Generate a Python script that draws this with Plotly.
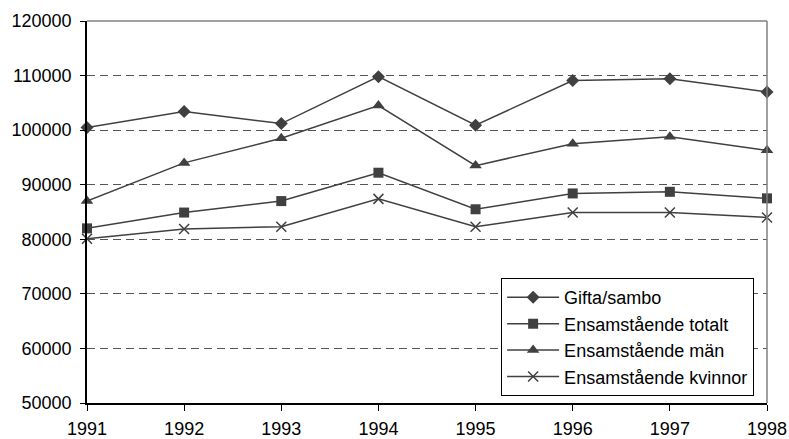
import plotly.graph_objects as go

years = [1991, 1992, 1993, 1994, 1995, 1996, 1997, 1998]
gifta_sambo = [100500, 103400, 101200, 109800, 100900, 109100, 109400, 107000]
ensam_totalt = [82000, 84900, 87000, 92200, 85500, 88400, 88700, 87500]
ensam_man = [87000, 94000, 98500, 104500, 93500, 97500, 98800, 96300]
ensam_kvinnor = [80100, 81900, 82300, 87400, 82300, 84900, 84900, 84000]

series_names = ["Gifta/sambo", "Ensamstående totalt", "Ensamstående män", "Ensamstående kvinnor"]
y_ticks = [50000, 60000, 70000, 80000, 90000, 100000, 110000, 120000]

col = "#404040"
font_family = "Liberation Sans, Arial, sans-serif"

fig = go.Figure()
specs = [
    (gifta_sambo, dict(symbol="diamond", size=10, color=col)),
    (ensam_totalt, dict(symbol="square", size=10, color=col)),
    (ensam_man, dict(symbol="triangle-up", size=11, color=col)),
    (ensam_kvinnor, dict(symbol="x-thin", size=10, color=col, line=dict(color=col, width=1.5))),
]
for name, (vals, mk) in zip(series_names, specs):
    fig.add_trace(go.Scatter(
        x=years, y=vals, name=name, mode="lines+markers",
        line=dict(color=col, width=1.5), marker=mk, cliponaxis=False,
    ))

fig.update_layout(
    width=789, height=439,
    margin=dict(l=87, r=22, t=21, b=36, autoexpand=False),
    paper_bgcolor="white", plot_bgcolor="white",
    font=dict(family=font_family, size=18, color="black"),
    showlegend=True,
    legend=dict(
        x=0.609, y=0.018, xanchor="left", yanchor="bottom",
        bgcolor="white", bordercolor="black", borderwidth=1,
        font=dict(size=18, family=font_family, color="black"),
        tracegroupgap=0, itemwidth=52,
    ),
    xaxis=dict(
        range=[1991, 1998], tickvals=years, ticktext=[str(y) for y in years],
        showgrid=False, zeroline=False, automargin=False,
        showline=True, linecolor="black", linewidth=1.5,
        ticks="outside", ticklen=6, tickcolor="black",
        ticklabelstandoff=3,
        tickfont=dict(size=18),
    ),
    yaxis=dict(
        range=[50000, 120000], tickvals=y_ticks, ticktext=[str(v) for v in y_ticks],
        showgrid=True, gridcolor="#555555", gridwidth=1, griddash="8px,5px",
        zeroline=False, automargin=False,
        showline=True, linecolor="black", linewidth=1.5,
        ticks="outside", ticklen=5, tickcolor="black",
        ticklabelstandoff=5,
        tickfont=dict(size=18),
    ),
    shapes=[
        dict(type="line", xref="paper", yref="paper", x0=0, x1=1, y0=1, y1=1,
             line=dict(color="#808080", width=1.5)),
        dict(type="line", xref="paper", yref="paper", x0=1, x1=1, y0=0, y1=1,
             line=dict(color="#808080", width=1.5)),
    ],
)

fig.write_html(
    "out.html",
    config={"displayModeBar": False},
    post_script="document.body.style.margin='0';document.body.style.overflow='hidden';",
)
